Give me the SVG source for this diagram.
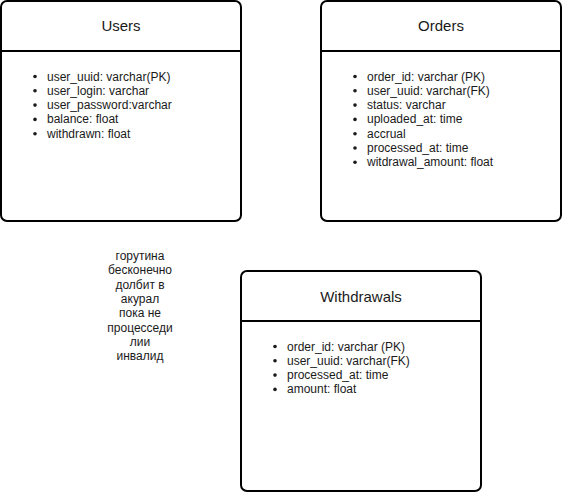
<svg xmlns="http://www.w3.org/2000/svg" width="562" height="492" viewBox="0 0 562 492">
<style>
.box{fill:#fff;stroke:#000;stroke-width:2}
.ln{stroke:#000;stroke-width:2}
.t{font-family:"Liberation Sans",Arial,sans-serif;fill:#1a1a1a}
.title{font-size:15px;text-anchor:middle}
.it{font-size:12px}
.nt{font-size:12px;text-anchor:middle}
</style>
<rect width="562" height="492" fill="#fff"/>
<g id="connectors"></g>
<g id="users">
<rect class="box" x="1" y="1" width="240" height="220" rx="6"/>
<line class="ln" x1="1" y1="51" x2="241" y2="51"/>
<text class="t title" x="121" y="31">Users</text>
<g class="t it">
<circle cx="35" cy="76.5" r="1.8"/><text x="47" y="80.5">user_uuid: varchar(PK)</text>
<circle cx="35" cy="90.8" r="1.8"/><text x="47" y="94.8">user_login: varchar</text>
<circle cx="35" cy="105.1" r="1.8"/><text x="47" y="109.1">user_password:varchar</text>
<circle cx="35" cy="119.4" r="1.8"/><text x="47" y="123.4">balance: float</text>
<circle cx="35" cy="133.7" r="1.8"/><text x="47" y="137.7">withdrawn: float</text>
</g>
</g>
<g id="orders">
<rect class="box" x="321" y="1" width="240" height="220" rx="6"/>
<line class="ln" x1="321" y1="51" x2="561" y2="51"/>
<text class="t title" x="441" y="31">Orders</text>
<g class="t it">
<circle cx="355" cy="76.5" r="1.8"/><text x="367" y="80.5">order_id: varchar (PK)</text>
<circle cx="355" cy="90.8" r="1.8"/><text x="367" y="94.8">user_uuid: varchar(FK)</text>
<circle cx="355" cy="105.1" r="1.8"/><text x="367" y="109.1">status: varchar</text>
<circle cx="355" cy="119.4" r="1.8"/><text x="367" y="123.4">uploaded_at: time</text>
<circle cx="355" cy="133.7" r="1.8"/><text x="367" y="137.7">accrual</text>
<circle cx="355" cy="148" r="1.8"/><text x="367" y="152">processed_at: time</text>
<circle cx="355" cy="162.3" r="1.8"/><text x="367" y="166.3">witdrawal_amount: float</text>
</g>
</g>
<g id="withdrawals">
<rect class="box" x="241" y="271" width="240" height="220" rx="6"/>
<line class="ln" x1="241" y1="321" x2="481" y2="321"/>
<text class="t title" x="361" y="302">Withdrawals</text>
<g class="t it">
<circle cx="275" cy="346.5" r="1.8"/><text x="287" y="350.5">order_id: varchar (PK)</text>
<circle cx="275" cy="360.8" r="1.8"/><text x="287" y="364.8">user_uuid: varchar(FK)</text>
<circle cx="275" cy="375.1" r="1.8"/><text x="287" y="379.1">processed_at: time</text>
<circle cx="275" cy="389.4" r="1.8"/><text x="287" y="393.4">amount: float</text>
</g>
</g>
<g id="note" class="t nt">
<text x="140" y="260">горутина</text>
<text x="140" y="274.3">бесконечно</text>
<text x="140" y="288.6">долбит в</text>
<text x="140" y="302.9">акурал</text>
<text x="140" y="317.2">пока не</text>
<text x="140" y="331.5">процесседи</text>
<text x="140" y="345.8">лии</text>
<text x="140" y="360.1">инвалид</text>
</g>
</svg>
